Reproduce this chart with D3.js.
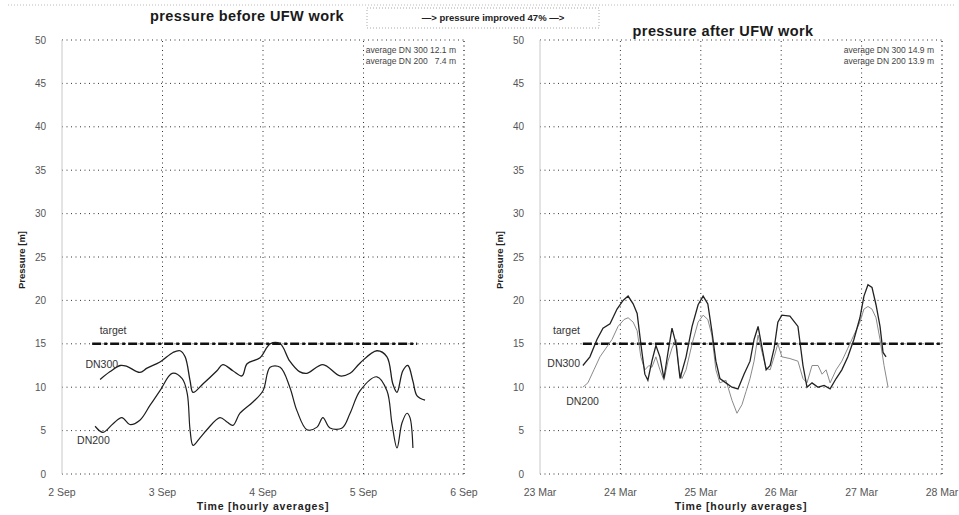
<!DOCTYPE html>
<html>
<head>
<meta charset="utf-8">
<script src="https://cdn.jsdelivr.net/npm/d3@7"></script>
<style>
  body { margin: 0; background: #fff; }
  svg { display: block; font-family: "Liberation Sans", Arial, sans-serif; }
</style>
</head>
<body>
<div id="chart"></div>
<script>
// pressure before / after UFW work, two panels

const chartWidth = 959
const chartHeight = 515

// left panel: hours since 2 Sep 00:00
const beforeTicks = ["2 Sep", "3 Sep", "4 Sep", "5 Sep", "6 Sep"]
const beforeDN300Hours = [9.1, 11.5, 13.9, 15.5, 18.6, 20.3, 23.4, 26.5, 28.2, 29.4, 30.6, 31.3, 33.7, 37.0, 38.4, 40.8, 43.0, 44.2, 47.3, 49.7, 52.1, 54.4, 56.7, 58.5, 62.3, 66.4, 68.8, 71.2, 75.2, 77.6, 79.0, 80.0, 81.4, 82.6, 83.8, 84.8, 86.7]
const beforeDN300 = [10.9, 11.8, 12.5, 12.4, 11.7, 12.2, 12.9, 14.0, 14.2, 13.5, 10.7, 9.4, 10.4, 11.9, 12.6, 11.9, 11.3, 12.7, 13.4, 15.0, 15.0, 13.0, 11.8, 11.6, 12.6, 11.3, 11.6, 12.8, 14.2, 13.5, 10.4, 9.4, 11.9, 12.5, 10.7, 9.0, 8.5]
const beforeDN200Hours = [7.9, 9.8, 12.2, 14.3, 16.2, 18.6, 21.0, 23.4, 26.3, 28.7, 29.9, 30.6, 31.3, 33.0, 34.6, 37.7, 39.4, 40.8, 42.5, 45.6, 48.0, 49.7, 52.1, 54.4, 56.1, 58.5, 60.9, 62.3, 64.0, 66.9, 68.8, 71.2, 75.2, 77.6, 78.8, 80.0, 81.2, 82.4, 83.1, 83.8]
const beforeDN200 = [5.5, 4.8, 5.8, 6.5, 5.7, 6.2, 7.9, 9.6, 11.6, 11.0, 9.3, 5.0, 3.3, 4.2, 5.1, 6.5, 6.0, 5.6, 7.0, 8.3, 9.6, 12.3, 12.3, 10.0, 7.3, 5.1, 5.4, 6.5, 5.3, 5.3, 7.0, 9.6, 11.2, 9.6, 5.8, 3.0, 5.9, 7.0, 6.5, 3.0]
const beforeTarget = [7.2, 84.8]
const beforeAverages = ["average DN 300 12.1 m", "average DN 200   7.4 m"]

// right panel: hours since 23 Mar 00:00
const afterTicks = ["23 Mar", "24 Mar", "25 Mar", "26 Mar", "27 Mar", "28 Mar"]
const afterDN300Hours = [12.8, 14.9, 17.0, 18.8, 20.9, 23.0, 24.8, 26.3, 27.8, 29.0, 30.1, 31.3, 32.2, 33.4, 34.6, 35.8, 37.0, 38.2, 39.4, 40.6, 41.8, 43.6, 45.4, 47.2, 48.7, 50.1, 51.3, 52.5, 53.7, 55.5, 57.3, 59.1, 60.9, 62.7, 63.9, 65.1, 66.3, 67.5, 68.7, 69.9, 71.0, 72.2, 74.6, 77.0, 78.5, 79.7, 81.2, 83.0, 84.8, 86.6, 88.4, 90.1, 91.9, 93.7, 95.5, 96.7, 97.9, 99.1, 100.3, 101.5, 102.4, 103.3]
const afterDN300 = [12.5, 13.5, 15.5, 16.8, 17.3, 19.0, 20.0, 20.5, 19.6, 18.5, 15.0, 11.5, 10.8, 13.0, 14.8, 13.5, 11.0, 14.0, 16.8, 15.0, 11.0, 13.5, 17.0, 19.5, 20.5, 19.6, 16.5, 13.0, 11.0, 10.5, 10.0, 9.8, 11.5, 13.0, 15.5, 17.0, 14.5, 12.0, 12.5, 14.5, 17.5, 18.3, 18.2, 17.0, 12.5, 10.0, 10.5, 10.0, 10.2, 9.8, 11.0, 12.0, 13.5, 15.5, 18.0, 20.5, 21.8, 21.5, 19.5, 17.0, 14.0, 13.5]
const afterDN200Hours = [12.8, 14.3, 16.1, 17.9, 19.7, 21.5, 23.3, 25.1, 26.3, 27.8, 29.0, 30.1, 31.3, 32.5, 33.4, 34.6, 35.8, 37.0, 38.2, 39.4, 40.6, 41.5, 42.4, 43.6, 45.4, 47.2, 48.7, 50.1, 51.3, 52.5, 53.7, 55.5, 57.3, 58.8, 60.3, 61.5, 62.7, 63.9, 65.1, 66.3, 67.5, 68.7, 69.9, 71.0, 72.2, 74.6, 77.0, 78.5, 79.7, 81.2, 83.0, 84.2, 85.4, 86.6, 88.4, 90.1, 91.9, 93.7, 95.5, 96.7, 97.9, 99.1, 100.3, 101.5, 102.7, 103.9]
const afterDN200 = [10.0, 10.5, 12.0, 13.5, 14.5, 15.5, 17.0, 17.8, 18.0, 17.5, 16.5, 13.5, 12.0, 12.5, 12.3, 13.5, 12.0, 10.8, 13.0, 14.5, 15.5, 12.0, 11.0, 12.0, 15.0, 17.5, 18.3, 17.8, 16.0, 12.0, 10.5, 10.8, 8.5, 7.0, 8.0, 9.5, 11.0, 13.0, 16.0, 14.0, 12.2, 12.0, 13.5, 15.0, 13.5, 13.3, 13.0, 11.0, 10.5, 12.5, 12.5, 11.5, 12.0, 10.5, 12.0, 13.0, 14.5, 16.0, 17.5, 19.0, 19.3, 19.0, 18.0, 15.5, 12.5, 10.0]
const afterTarget = [12.8, 120]
const afterAverages = ["average DN 300 14.9 m", "average DN 200 13.9 m"]

const pressureTicks = [0, 5, 10, 15, 20, 25, 30, 35, 40, 45, 50]

// layout
const marginTop = 40
const marginBottom = 41
const panels = [
  {
    left: 62, right: 464, hours: 96, ticks: beforeTicks,
    title: "pressure before UFW work", titleX: 247, titleY: 21,
    dn300: [beforeDN300Hours, beforeDN300], dn200: [beforeDN200Hours, beforeDN200],
    c300: "#1e1e1e", c200: "#1e1e1e", w200: 1.2, curve: d3.curveCatmullRom,
    target: beforeTarget, averages: beforeAverages,
    labels: [["target", 9, 16.1, "start"], ["DN300", 13.4, 12.2, "end"], ["DN200", 3.6, 3.5, "start"]]
  },
  {
    left: 540, right: 942, hours: 120, ticks: afterTicks,
    title: "pressure after UFW work", titleX: 723, titleY: 36,
    dn300: [afterDN300Hours, afterDN300], dn200: [afterDN200Hours, afterDN200],
    c300: "#222", c200: "#8a8a8a", w200: 1, curve: d3.curveLinear,
    target: afterTarget, averages: afterAverages,
    labels: [["target", 3.9, 16.1, "start"], ["DN300", 2.2, 12.3, "start"], ["DN200", 7.8, 8.0, "start"]]
  }
]

const svg = d3.select("#chart")
  .append("svg")
  .attr("width", chartWidth)
  .attr("height", chartHeight)

// faint dotted frame line along the top
svg.append("line")
  .attr("x1", 8).attr("x2", chartWidth - 4)
  .attr("y1", 5).attr("y2", 5)
  .attr("stroke", "#bbb")
  .attr("stroke-dasharray", "1,2")

// middle note box
svg.append("rect")
  .attr("x", 367).attr("y", 8)
  .attr("width", 232).attr("height", 20)
  .attr("fill", "none")
  .attr("stroke", "#aaa")
  .attr("stroke-dasharray", "1,2")
svg.append("text")
  .attr("x", 493).attr("y", 21)
  .attr("text-anchor", "middle")
  .attr("font-size", "9.5px")
  .attr("font-weight", "bold")
  .attr("fill", "#222")
  .text("\u2014> pressure improved 47% \u2014>")

panels.forEach(p => {
  const xScale = d3.scaleLinear([0, p.hours], [p.left, p.right])
  const yScale = d3.scaleLinear([0, 50], [chartHeight - marginBottom, marginTop])
  const g = svg.append("g")

  // horizontal grid
  g.append("g")
    .selectAll("line")
    .data(pressureTicks)
    .join("line")
    .attr("x1", p.left).attr("x2", p.right)
    .attr("y1", d => yScale(d)).attr("y2", d => yScale(d))
    .attr("stroke", "#333")
    .attr("stroke-width", 1)
    .attr("stroke-dasharray", "1,3.5")

  // vertical grid, one per day
  g.append("g")
    .selectAll("line")
    .data(p.ticks.slice(1))
    .join("line")
    .attr("x1", (d, i) => xScale((i + 1) * 24)).attr("x2", (d, i) => xScale((i + 1) * 24))
    .attr("y1", yScale(0)).attr("y2", yScale(50))
    .attr("stroke", "#333")
    .attr("stroke-width", (d, i) => i === p.ticks.length - 2 ? 1.4 : 1)
    .attr("stroke-dasharray", "1,3.5")

  // y axis line
  g.append("line")
    .attr("x1", p.left).attr("x2", p.left)
    .attr("y1", yScale(0)).attr("y2", yScale(50))
    .attr("stroke", "#c8c8c8")

  // y tick labels
  g.append("g")
    .selectAll("text")
    .data(pressureTicks)
    .join("text")
    .attr("x", p.left - 16)
    .attr("y", d => yScale(d) + 3.5)
    .attr("text-anchor", "end")
    .attr("font-size", "10px")
    .attr("fill", "#555")
    .text(d => d)

  // x tick labels
  g.append("g")
    .selectAll("text")
    .data(p.ticks)
    .join("text")
    .attr("x", (d, i) => xScale(i * 24))
    .attr("y", chartHeight - 19)
    .attr("text-anchor", "middle")
    .attr("font-size", "10.5px")
    .attr("fill", "#555")
    .text(d => d)

  // axis titles
  g.append("text")
    .attr("x", (p.left + p.right) / 2)
    .attr("y", chartHeight - 5)
    .attr("text-anchor", "middle")
    .attr("font-size", "10.5px")
    .attr("font-weight", "bold")
    .attr("letter-spacing", "0.8px")
    .attr("fill", "#222")
    .text("Time  [hourly averages]")
  g.append("text")
    .attr("transform", `translate(${p.left - 37},260) rotate(-90)`)
    .attr("text-anchor", "middle")
    .attr("font-size", "9.5px")
    .attr("font-weight", "bold")
    .attr("fill", "#222")
    .text("Pressure [m]")

  // panel title
  g.append("text")
    .attr("x", p.titleX).attr("y", p.titleY)
    .attr("text-anchor", "middle")
    .attr("font-size", "14.5px")
    .attr("font-weight", "bold")
    .attr("letter-spacing", "0.4px")
    .attr("fill", "#1a1a1a")
    .text(p.title)

  // averages
  g.append("g")
    .selectAll("text")
    .data(p.averages)
    .join("text")
    .attr("x", p.right - 8)
    .attr("y", (d, i) => yScale(50) + 13 + i * 11)
    .attr("text-anchor", "end")
    .attr("font-size", "8.5px")
    .attr("fill", "#444")
    .attr("xml:space", "preserve")
    .text(d => d)

  // target line
  g.append("line")
    .attr("x1", xScale(p.target[0])).attr("x2", xScale(p.target[1]))
    .attr("y1", yScale(15)).attr("y2", yScale(15))
    .attr("stroke", "#111")
    .attr("stroke-width", 2.4)
    .attr("stroke-dasharray", "9,3,3,3")

  const line = d3.line()
    .x(d => xScale(d[0]))
    .y(d => yScale(d[1]))
    .curve(p.curve)

  const s200 = d3.zip(p.dn200[0], p.dn200[1])
  const s300 = d3.zip(p.dn300[0], p.dn300[1])

  g.append("path")
    .attr("d", line(s200))
    .attr("fill", "none")
    .attr("stroke", p.c200)
    .attr("stroke-width", p.w200)

  g.append("path")
    .attr("d", line(s300))
    .attr("fill", "none")
    .attr("stroke", p.c300)
    .attr("stroke-width", 1.3)

  // series labels
  g.append("g")
    .selectAll("text")
    .data(p.labels)
    .join("text")
    .attr("x", d => xScale(d[1]))
    .attr("y", d => yScale(d[2]))
    .attr("text-anchor", d => d[3])
    .attr("font-size", "10.5px")
    .attr("fill", "#333")
    .text(d => d[0])
})
</script>
</body>
</html>
